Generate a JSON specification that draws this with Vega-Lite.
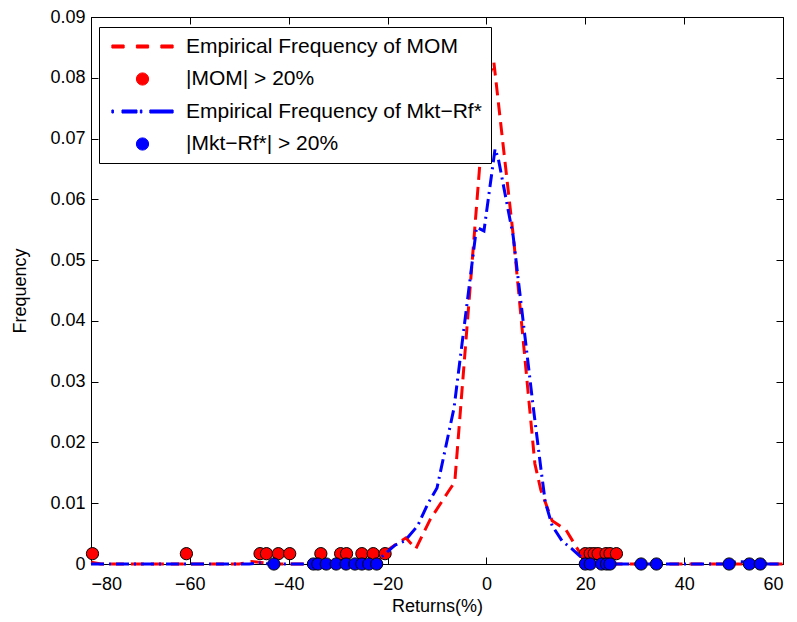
{
  "$schema": "https://vega.github.io/schema/vega-lite/v6.json",
  "width": 692,
  "height": 547,
  "autosize": {"type": "none"},
  "padding": {"left": 91, "top": 17, "right": 14, "bottom": 58},
  "background": "white",
  "config": {
    "font": "Liberation Sans",
    "view": {"stroke": "black", "strokeWidth": 1},
    "axis": {
      "grid": false,
      "domainColor": "black",
      "tickColor": "black",
      "labelColor": "black",
      "titleColor": "black",
      "labelFont": "Liberation Sans",
      "titleFont": "Liberation Sans",
      "labelFontSize": 18,
      "titleFontSize": 18,
      "titleFontWeight": "normal",
      "tickSize": -7,
      "domainWidth": 1,
      "tickWidth": 1
    }
  },
  "datasets": {
    "curves": [
      {"series": "Empirical Frequency of MOM", "r": -80, "f": 0.0003},
      {"series": "Empirical Frequency of MOM", "r": -78, "f": 0},
      {"series": "Empirical Frequency of MOM", "r": -50, "f": 0},
      {"series": "Empirical Frequency of MOM", "r": -47.5, "f": 0.0004},
      {"series": "Empirical Frequency of MOM", "r": -45, "f": 0.0002},
      {"series": "Empirical Frequency of MOM", "r": -43, "f": 0},
      {"series": "Empirical Frequency of MOM", "r": -24, "f": 0},
      {"series": "Empirical Frequency of MOM", "r": -22, "f": 0.0004},
      {"series": "Empirical Frequency of MOM", "r": -20, "f": 0.0023},
      {"series": "Empirical Frequency of MOM", "r": -16.3, "f": 0.0043},
      {"series": "Empirical Frequency of MOM", "r": -14.3, "f": 0.0025},
      {"series": "Empirical Frequency of MOM", "r": -11.4, "f": 0.0073},
      {"series": "Empirical Frequency of MOM", "r": -7.8, "f": 0.0118},
      {"series": "Empirical Frequency of MOM", "r": -6.4, "f": 0.0135},
      {"series": "Empirical Frequency of MOM", "r": -0.1, "f": 0.0785},
      {"series": "Empirical Frequency of MOM", "r": 1.5, "f": 0.0826},
      {"series": "Empirical Frequency of MOM", "r": 5.5, "f": 0.0535},
      {"series": "Empirical Frequency of MOM", "r": 9.8, "f": 0.0165},
      {"series": "Empirical Frequency of MOM", "r": 11.0, "f": 0.0122},
      {"series": "Empirical Frequency of MOM", "r": 13.3, "f": 0.0071},
      {"series": "Empirical Frequency of MOM", "r": 16.1, "f": 0.0056},
      {"series": "Empirical Frequency of MOM", "r": 19.3, "f": 0.0013},
      {"series": "Empirical Frequency of MOM", "r": 21, "f": 0.0003},
      {"series": "Empirical Frequency of MOM", "r": 23, "f": 0},
      {"series": "Empirical Frequency of MOM", "r": 60, "f": 0},
      {"series": "Empirical Frequency of Mkt−Rf*", "r": -80, "f": 0},
      {"series": "Empirical Frequency of Mkt−Rf*", "r": -48, "f": 0},
      {"series": "Empirical Frequency of Mkt−Rf*", "r": -46, "f": 0.0002},
      {"series": "Empirical Frequency of Mkt−Rf*", "r": -44, "f": 0},
      {"series": "Empirical Frequency of Mkt−Rf*", "r": -24, "f": 0},
      {"series": "Empirical Frequency of Mkt−Rf*", "r": -22, "f": 0.0006},
      {"series": "Empirical Frequency of Mkt−Rf*", "r": -18.5, "f": 0.0031},
      {"series": "Empirical Frequency of Mkt−Rf*", "r": -16.5, "f": 0.0038},
      {"series": "Empirical Frequency of Mkt−Rf*", "r": -13.9, "f": 0.0063},
      {"series": "Empirical Frequency of Mkt−Rf*", "r": -11.8, "f": 0.0100},
      {"series": "Empirical Frequency of Mkt−Rf*", "r": -10.0, "f": 0.0125},
      {"series": "Empirical Frequency of Mkt−Rf*", "r": -6.55, "f": 0.0257},
      {"series": "Empirical Frequency of Mkt−Rf*", "r": -2.0, "f": 0.0554},
      {"series": "Empirical Frequency of Mkt−Rf*", "r": -0.5, "f": 0.0548},
      {"series": "Empirical Frequency of Mkt−Rf*", "r": 1.75, "f": 0.0683},
      {"series": "Empirical Frequency of Mkt−Rf*", "r": 2.4, "f": 0.0667},
      {"series": "Empirical Frequency of Mkt−Rf*", "r": 5.4, "f": 0.0540},
      {"series": "Empirical Frequency of Mkt−Rf*", "r": 9.4, "f": 0.0263},
      {"series": "Empirical Frequency of Mkt−Rf*", "r": 11.05, "f": 0.0155},
      {"series": "Empirical Frequency of Mkt−Rf*", "r": 11.9, "f": 0.0102},
      {"series": "Empirical Frequency of Mkt−Rf*", "r": 13.3, "f": 0.0063},
      {"series": "Empirical Frequency of Mkt−Rf*", "r": 15.3, "f": 0.0038},
      {"series": "Empirical Frequency of Mkt−Rf*", "r": 17.3, "f": 0.0025},
      {"series": "Empirical Frequency of Mkt−Rf*", "r": 19.3, "f": 0.0010},
      {"series": "Empirical Frequency of Mkt−Rf*", "r": 21, "f": 0.0002},
      {"series": "Empirical Frequency of Mkt−Rf*", "r": 23, "f": 0},
      {"series": "Empirical Frequency of Mkt−Rf*", "r": 48, "f": 0},
      {"series": "Empirical Frequency of Mkt−Rf*", "r": 51, "f": 0.0004},
      {"series": "Empirical Frequency of Mkt−Rf*", "r": 54, "f": 0.0003},
      {"series": "Empirical Frequency of Mkt−Rf*", "r": 57, "f": 0},
      {"series": "Empirical Frequency of Mkt−Rf*", "r": 60, "f": 0}
    ],
    "dots": [
      {"series": "|MOM| > 20%", "r": -79.7, "f": 0.0017},
      {"series": "|MOM| > 20%", "r": -60.7, "f": 0.0017},
      {"series": "|MOM| > 20%", "r": -45.8, "f": 0.0017},
      {"series": "|MOM| > 20%", "r": -44.5, "f": 0.0017},
      {"series": "|MOM| > 20%", "r": -42.1, "f": 0.0017},
      {"series": "|MOM| > 20%", "r": -39.8, "f": 0.0017},
      {"series": "|MOM| > 20%", "r": -33.5, "f": 0.0017},
      {"series": "|MOM| > 20%", "r": -29.5, "f": 0.0017},
      {"series": "|MOM| > 20%", "r": -28.3, "f": 0.0017},
      {"series": "|MOM| > 20%", "r": -25.2, "f": 0.0017},
      {"series": "|MOM| > 20%", "r": -22.9, "f": 0.0017},
      {"series": "|MOM| > 20%", "r": -20.5, "f": 0.0017},
      {"series": "|MOM| > 20%", "r": 20.0, "f": 0.0017},
      {"series": "|MOM| > 20%", "r": 21.0, "f": 0.0017},
      {"series": "|MOM| > 20%", "r": 21.8, "f": 0.0017},
      {"series": "|MOM| > 20%", "r": 22.6, "f": 0.0017},
      {"series": "|MOM| > 20%", "r": 24.2, "f": 0.0017},
      {"series": "|MOM| > 20%", "r": 25.0, "f": 0.0017},
      {"series": "|MOM| > 20%", "r": 26.3, "f": 0.0017},
      {"series": "|Mkt−Rf*| > 20%", "r": -43.0, "f": 0},
      {"series": "|Mkt−Rf*| > 20%", "r": -35.0, "f": 0},
      {"series": "|Mkt−Rf*| > 20%", "r": -34.1, "f": 0},
      {"series": "|Mkt−Rf*| > 20%", "r": -32.4, "f": 0},
      {"series": "|Mkt−Rf*| > 20%", "r": -30.4, "f": 0},
      {"series": "|Mkt−Rf*| > 20%", "r": -28.4, "f": 0},
      {"series": "|Mkt−Rf*| > 20%", "r": -26.6, "f": 0},
      {"series": "|Mkt−Rf*| > 20%", "r": -25.2, "f": 0},
      {"series": "|Mkt−Rf*| > 20%", "r": -23.8, "f": 0},
      {"series": "|Mkt−Rf*| > 20%", "r": -22.2, "f": 0},
      {"series": "|Mkt−Rf*| > 20%", "r": 20.0, "f": 0},
      {"series": "|Mkt−Rf*| > 20%", "r": 21.0, "f": 0},
      {"series": "|Mkt−Rf*| > 20%", "r": 23.3, "f": 0},
      {"series": "|Mkt−Rf*| > 20%", "r": 24.3, "f": 0},
      {"series": "|Mkt−Rf*| > 20%", "r": 25.0, "f": 0},
      {"series": "|Mkt−Rf*| > 20%", "r": 31.3, "f": 0},
      {"series": "|Mkt−Rf*| > 20%", "r": 34.4, "f": 0},
      {"series": "|Mkt−Rf*| > 20%", "r": 49.1, "f": 0},
      {"series": "|Mkt−Rf*| > 20%", "r": 53.2, "f": 0},
      {"series": "|Mkt−Rf*| > 20%", "r": 55.4, "f": 0}
    ]
  },
  "resolve": {"axis": {"x": "independent", "y": "independent"}},
  "encoding": {
    "color": {
      "field": "series", "type": "nominal",
      "scale": {
        "domain": ["Empirical Frequency of MOM", "|MOM| > 20%", "Empirical Frequency of Mkt−Rf*", "|Mkt−Rf*| > 20%"],
        "range": ["#ff0000", "#ff0000", "#0000ff", "#0000ff"]
      },
      "legend": {
        "title": null,
        "orient": "none",
        "legendX": 8,
        "legendY": 10,
        "strokeColor": "black",
        "fillColor": "white",
        "padding": 9,
        "labelFont": "Liberation Sans",
        "labelFontSize": 21,
        "labelColor": "black",
        "labelLimit": 400,
        "symbolSize": 150,
        "symbolOffset": 24,
        "labelOffset": 33,
        "rowPadding": 10.5,
        "symbolType": "circle",
        "symbolStrokeWidth": 1,
        "encode": {
          "symbols": {
            "update": {
              "shape": {"signal": "datum.value == 'Empirical Frequency of MOM' ? 'M-5,-0.25H-3V0.25H-5ZM-1,-0.25H1V0.25H-1ZM3,-0.25H5V0.25H3Z' : (datum.value == 'Empirical Frequency of Mkt−Rf*' ? 'M-5,-0.25H-4.75V0.25H-5ZM-3.35,-0.25H-0.9V0.25H-3.35ZM-0.35,-0.25H-0.1V0.25H-0.35ZM1.2,-0.25H5V0.25H1.2Z' : 'circle')"},
              "fill": {"signal": "indexof(datum.value, 'MOM') >= 0 ? '#ff0000' : '#0000ff'"},
              "stroke": {"signal": "indexof(datum.value, '>') >= 0 ? 'black' : 'transparent'"},
              "opacity": {"value": 1}
            }
          }
        }
      }
    }
  },
  "layer": [
    {
      "data": {"name": "curves"},
      "transform": [{"filter": "datum.series == 'Empirical Frequency of MOM'"}],
      "mark": {"type": "line", "strokeWidth": 3, "strokeDash": [13, 7]},
      "encoding": {
        "x": {
          "field": "r", "type": "quantitative",
          "scale": {"domain": [-80, 60], "nice": false, "zero": false},
          "axis": {"orient": "bottom", "values": [-80, -60, -40, -20, 0, 20, 40, 60], "title": "Returns(%)", "labelPadding": 18, "titlePadding": 4}
        },
        "y": {
          "field": "f", "type": "quantitative",
          "scale": {"domain": [0, 0.09], "nice": false, "zero": false},
          "axis": {"orient": "left", "values": [0, 0.01, 0.02, 0.03, 0.04, 0.05, 0.06, 0.07, 0.08, 0.09], "labelExpr": "datum.value == 0 ? '0' : format(datum.value, '.2f')", "title": "Frequency", "labelPadding": 13, "titlePadding": 20}
        }
      }
    },
    {
      "data": {"name": "dots"},
      "transform": [{"filter": "datum.series == '|MOM| > 20%'"}],
      "mark": {"type": "point", "shape": "circle", "filled": true, "size": 150, "stroke": "black", "strokeWidth": 1, "opacity": 1},
      "encoding": {
        "x": {"field": "r", "type": "quantitative", "axis": {"orient": "top", "labels": false, "domain": false, "title": null, "values": [-80, -60, -40, -20, 0, 20, 40, 60]}},
        "y": {"field": "f", "type": "quantitative", "axis": {"orient": "right", "labels": false, "domain": false, "title": null, "values": [0, 0.01, 0.02, 0.03, 0.04, 0.05, 0.06, 0.07, 0.08, 0.09]}}
      }
    },
    {
      "data": {"name": "curves"},
      "transform": [{"filter": "datum.series == 'Empirical Frequency of Mkt−Rf*'"}],
      "mark": {"type": "line", "strokeWidth": 3, "strokeDash": [13, 5, 2, 5]},
      "encoding": {
        "x": {"field": "r", "type": "quantitative", "axis": null},
        "y": {"field": "f", "type": "quantitative", "axis": null}
      }
    },
    {
      "data": {"name": "dots"},
      "transform": [{"filter": "datum.series == '|Mkt−Rf*| > 20%'"}],
      "mark": {"type": "point", "shape": "circle", "filled": true, "size": 150, "stroke": "black", "strokeWidth": 1, "opacity": 1},
      "encoding": {
        "x": {"field": "r", "type": "quantitative", "axis": null},
        "y": {"field": "f", "type": "quantitative", "axis": null}
      }
    }
  ]
}
